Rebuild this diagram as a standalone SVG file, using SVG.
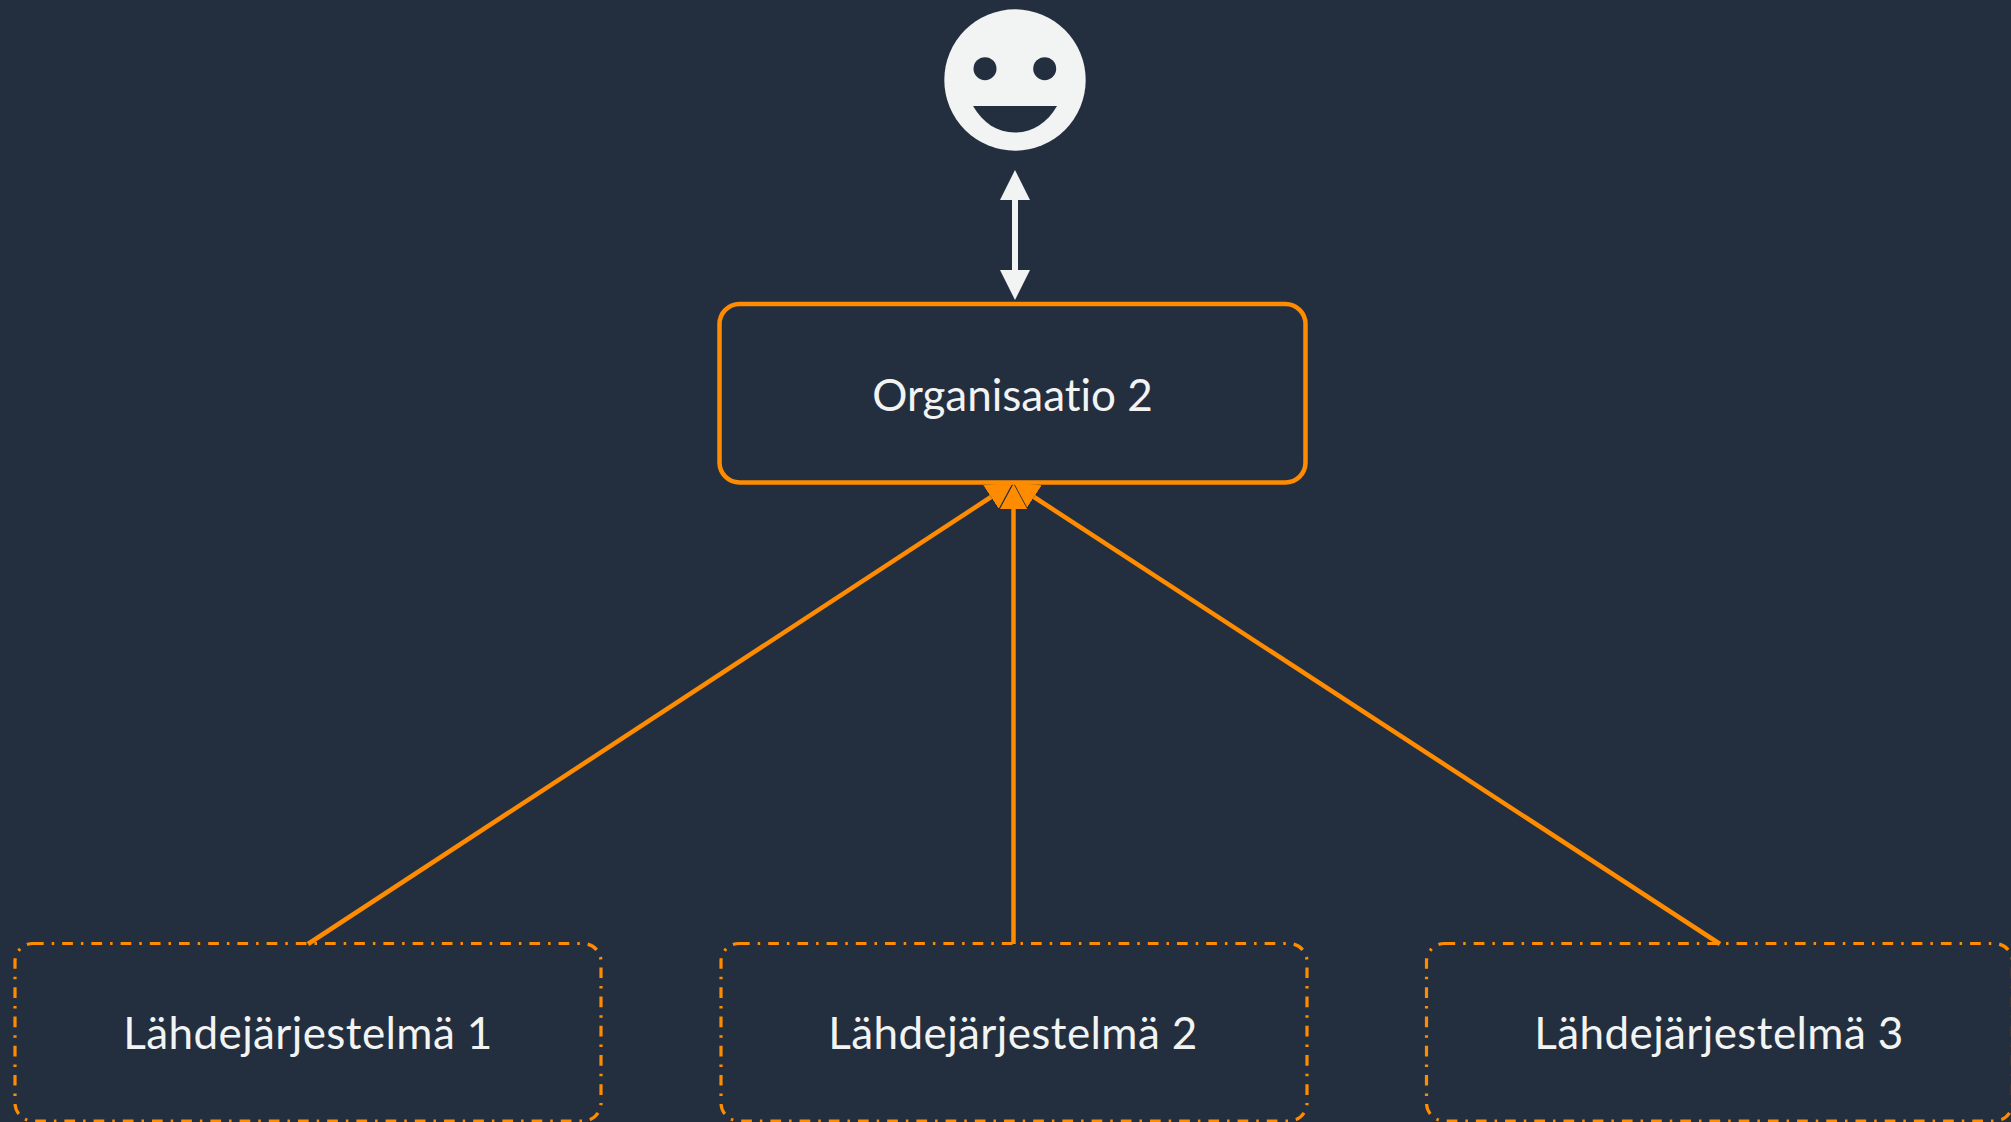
<svg xmlns="http://www.w3.org/2000/svg" width="2011" height="1122" viewBox="0 0 2011 1122">
<style>
.lbl{font-family:"Lato","Carlito","Liberation Sans",sans-serif;font-size:44px;letter-spacing:.4px;font-variant-ligatures:none;fill:#F2F3F3;text-anchor:middle}
.org-lbl{letter-spacing:0}
.src{fill:none;stroke:#FF8C00;stroke-width:3.200;stroke-dasharray:10.7 8 2.5 8}
.org{fill:none;stroke:#FF8C00;stroke-width:4.500}
.link{fill:none;stroke:#FF8C00;stroke-width:4.500;marker-end:url(#oa)}
.mid{marker-end:url(#oc)}
.dbl{fill:none;stroke:#F2F3F3;stroke-width:6;marker-start:url(#wa);marker-end:url(#wa)}
.face{fill:#F2F3F3}
.cut{fill:#232F3E}
</style>
<defs>
<marker id="oa" markerUnits="userSpaceOnUse" markerWidth="26" markerHeight="28" refX="0" refY="14" orient="auto" viewBox="0 0 26 28"><path d="M0 0L26 14L0 28Z" fill="#FF8C00"/></marker>
<marker id="oc" markerUnits="userSpaceOnUse" markerWidth="28" markerHeight="28" refX="0" refY="14" orient="auto" viewBox="0 0 28 28"><path d="M0 0L26 14L0 28Z" fill="#FF8C00"/><path d="M0 0L26 14L0 28" fill="none" stroke="#232F3E" stroke-width=".9"/></marker>
<marker id="wa" markerUnits="userSpaceOnUse" markerWidth="30" markerHeight="30" refX="0" refY="15" orient="auto-start-reverse" viewBox="0 0 30 30"><path d="M0 0L30 15L0 30Z" fill="#F2F3F3"/></marker>
</defs>
<rect width="2011" height="1122" fill="#232F3E"/>
<g id="connectors">
<path class="dbl" d="M1015 200V270"/>
<path class="link" d="M308 944L991 497"/>
<path class="link" d="M1720 944L1034 497"/>
<path class="link mid" d="M1013.500 944V509"/>
</g>
<g id="user">
<circle class="face" cx="1015" cy="80" r="70.7"/>
<circle class="cut" cx="985" cy="68.7" r="11.5"/>
<circle class="cut" cx="1044.7" cy="68.7" r="11.5"/>
<path class="cut" d="M973 106H1057C1047 123 1033 132.500 1015 132.500C997 132.500 983 123 973 106Z"/>
</g>
<g id="organisaatio-2">
<rect class="org" x="719.500" y="304" width="586" height="178.500" rx="20"/>
<text class="lbl org-lbl" x="1012.500" y="411">Organisaatio 2</text>
</g>
<g id="lahdejarjestelma-1">
<rect class="src" x="15" y="943.500" width="586" height="177.500" rx="18"/>
<text class="lbl" x="308" y="1049">Lähdejärjestelmä 1</text>
</g>
<g id="lahdejarjestelma-2">
<rect class="src" x="721" y="943.500" width="586" height="177.500" rx="18"/>
<text class="lbl" x="1013" y="1049">Lähdejärjestelmä 2</text>
</g>
<g id="lahdejarjestelma-3">
<rect class="src" x="1426.500" y="943.500" width="586" height="177.500" rx="18"/>
<text class="lbl" x="1719" y="1049">Lähdejärjestelmä 3</text>
</g>
</svg>
